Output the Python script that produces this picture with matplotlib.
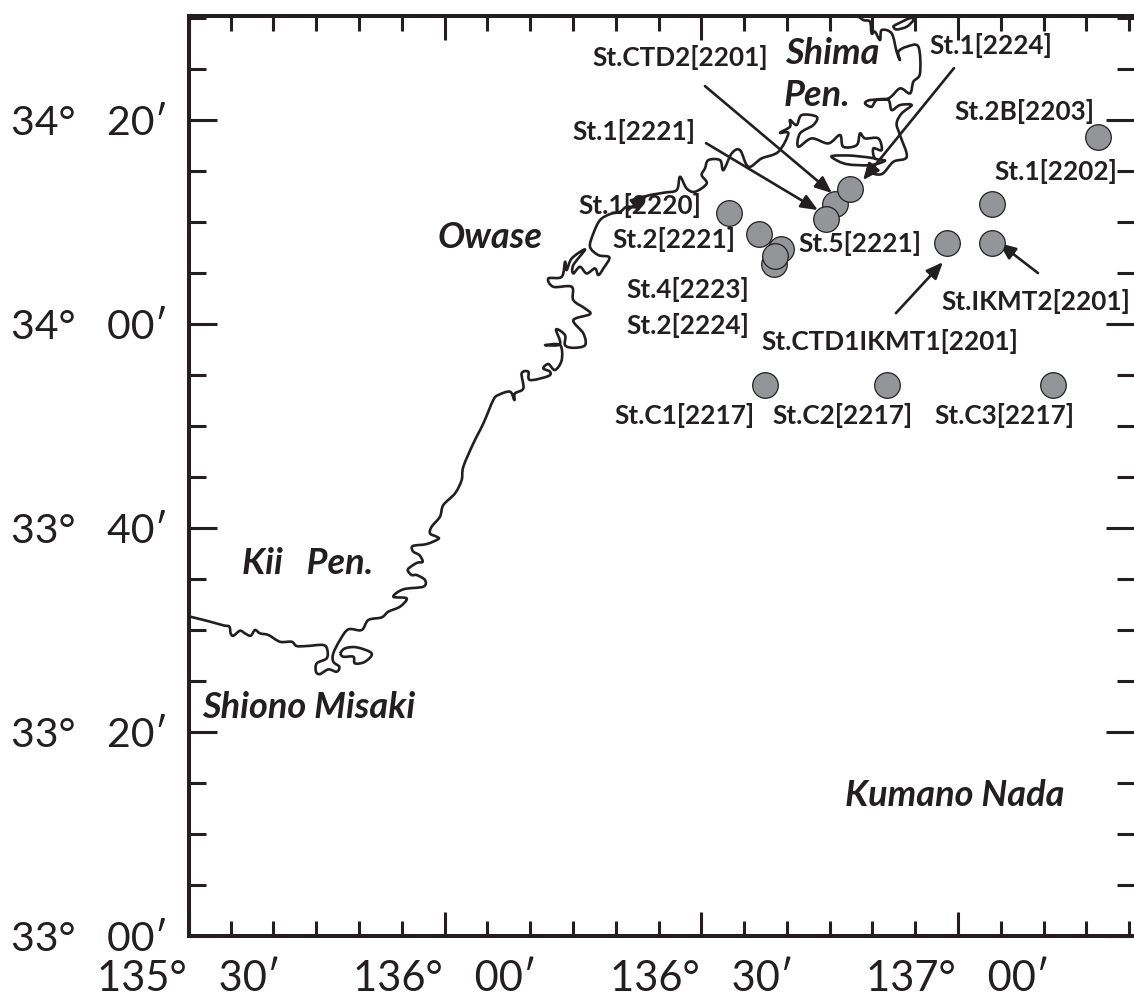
import matplotlib
matplotlib.use("Agg")
import matplotlib.pyplot as plt
import numpy as np
from matplotlib.patches import PathPatch
from matplotlib.path import Path
from matplotlib.ticker import FixedLocator, FuncFormatter

plt.rcParams['font.family'] = ['Lato', 'DejaVu Sans']
INK = '#231f20'

# Coordinates: arc-minutes east of 135°E and north of 33°N
station_names = ['St.4[2223]', 'St.5[2221]', 'St.2[2224]', 'St.2[2221]', 'St.1[2220]', 'St.CTD2[2201]',
                 'St.1[2224]', 'St.1[2221]', 'St.1[2202]', 'St.IKMT2[2201]', 'St.CTD1IKMT1[2201]',
                 'St.2B[2203]', 'St.C1[2217]', 'St.C2[2217]', 'St.C3[2217]']
station_lon = [98.5, 99.3, 98.6, 96.7, 93.2, 105.6, 107.4, 104.6, 123.96, 123.96, 118.7, 136.3, 97.4, 111.7, 131.1]
station_lat = [65.9, 67.4, 66.7, 68.8, 70.9, 71.8, 73.2, 70.3, 71.8, 67.9, 67.9, 78.3, 54.0, 54.0, 54.0]

coast_west_lon = [30.15, 30.27, 32.21, 34.16, 34.86, 35.02, 35.33, 36.11, 36.69, 37.36, 37.86, 38.45, 39.42, 40.78,
                  42.14, 42.73, 43.90, 45.84, 46.31, 46.23, 45.07, 44.99, 45.45, 46.43, 47.40, 47.71, 47.01, 47.01,
                  47.79, 48.76, 50.32, 51.10, 52.66, 53.44, 54.80, 55.58, 54.02, 55.19, 57.53, 57.72, 56.75, 56.16,
                  55.70, 56.16, 56.83, 57.45, 57.06, 56.36, 56.28, 57.92, 59.28, 59.08, 58.31, 58.50, 59.47, 59.86,
                  61.23, 62.00, 62.20, 63.37, 64.54, 65.70, 66.29, 67.65, 68.16, 68.23, 69.21, 69.01, 69.79, 69.99,
                  72.13, 72.32, 71.54, 72.13, 72.91, 73.69, 73.49, 71.74, 73.49, 73.03, 74.08, 74.08, 75.05, 76.42,
                  76.22, 75.05, 77.00, 76.41, 75.05, 74.86, 72.72, 72.13, 73.69, 74.08, 74.27, 74.86, 76.42, 75.05,
                  75.05, 75.83, 76.61, 77.58, 77.97, 78.56, 79.26, 77.97, 77.00, 77.39, 78.17, 79.34, 80.50, 81.28,
                  82.45, 83.42, 85.57, 87.12, 87.51, 88.29, 89.27, 90.63, 90.04, 90.43, 90.82, 92.19, 92.58, 93.55,
                  94.52, 95.50, 97.05, 99.00, 100.17, 99.20, 100.36, 100.36, 101.14, 101.73, 103.48, 103.09, 101.53,
                  101.34, 102.89, 104.84, 106.20, 106.59, 108.15, 108.54, 109.13, 110.68, 111.07, 110.10, 110.29,
                  111.46, 109.71, 106.98, 105.43, 105.43, 107.76, 110.29]
coast_west_lat = [31.36, 31.31, 30.91, 30.46, 30.33, 29.67, 29.44, 29.93, 29.67, 29.44, 30.00, 29.67, 29.51, 28.85,
                  28.85, 28.43, 28.43, 28.53, 28.04, 27.22, 26.73, 25.91, 25.68, 26.14, 25.91, 26.40, 26.89, 27.71,
                  29.02, 30.06, 30.00, 30.98, 31.24, 31.80, 32.29, 33.10, 33.27, 33.99, 34.25, 34.90, 35.39, 35.39,
                  35.88, 36.27, 36.60, 36.70, 37.35, 37.68, 38.23, 38.43, 38.92, 39.15, 39.47, 40.13, 41.11, 42.25,
                  43.40, 44.70, 46.01, 48.30, 50.26, 52.55, 53.04, 53.37, 52.55, 53.20, 53.69, 55.16, 55.33, 54.51,
                  54.90, 55.33, 55.65, 56.08, 55.49, 56.47, 57.94, 57.93, 58.03, 59.47, 58.91, 57.93, 57.67, 57.93,
                  59.08, 60.38, 60.97, 61.53, 62.34, 63.65, 63.65, 64.47, 64.63, 66.10, 65.29, 66.43, 67.31, 65.78,
                  64.96, 65.61, 64.96, 65.45, 64.80, 65.45, 66.53, 66.76, 67.57, 68.88, 70.19, 70.78, 71.00, 71.50,
                  71.50, 72.48, 72.87, 73.13, 74.44, 73.29, 72.97, 73.78, 74.60, 75.26, 76.07, 76.07, 75.09, 76.73,
                  77.05, 75.42, 76.24, 76.89, 78.69, 78.75, 79.34, 80.00, 79.51, 80.49, 80.32, 79.51, 78.69,
                  77.38, 78.20, 77.71, 78.53, 77.38, 77.54, 78.69, 78.20, 78.20, 77.05, 77.22, 76.24,
                  76.01, 75.58, 75.68, 76.24, 76.50, 76.50, 76.24]
coast_east_lon = [109.52, 109.52, 111.07, 112.44, 114.00, 113.21, 112.82, 113.41, 114.58, 113.21, 112.24, 111.85,
                  110.49, 109.90, 109.13, 109.71, 111.85, 113.21, 114.38, 114.77, 115.55, 115.36, 114.00, 113.02,
                  113.21, 112.82, 112.24, 111.07, 110.88, 110.29, 109.90, 109.71, 108.93, 108.3]
coast_east_lat = [75.42, 74.93, 74.70, 75.91, 76.40, 78.52, 79.67, 80.65, 81.47, 81.47, 80.98, 81.96,
                  81.96, 81.30, 81.63, 81.96, 82.12, 83.10, 82.61, 83.75, 84.57, 87.19, 87.19, 86.70,
                  85.88, 86.70, 88.49, 88.82, 87.84, 88.66, 88.49, 89.64, 89.80, 90.2]
island_shima_lon = [112.63, 114.38, 114.77, 114.00, 112.82, 112.44, 112.63]
island_shima_lat = [89.31, 89.99, 89.80, 89.15, 88.88, 89.15, 89.31]
island_shiono_lon = [47.79, 48.38, 49.74, 51.49, 50.71, 49.54, 49.35, 48.18, 47.79]
island_shiono_lat = [27.71, 28.20, 28.30, 27.71, 26.89, 26.73, 27.38, 27.38, 27.71]

W, H = 1134, 1001
L, R, T, B = 189, 1134, 15.5, 936
fig = plt.figure(figsize=(W / 100, H / 100), dpi=100)
ax = fig.add_axes([L / W, 1 - B / H, (R - L) / W, (B - T) / H])


def lon(m):
    return 135 + np.asarray(m) / 60


def lat(m):
    return 33 + np.asarray(m) / 60


ax.set_xlim(lon(30.15), lon(140.55))
ax.set_ylim(lat(0), lat(90.25))


def smooth_path(xs, ys):
    # Bezier curve through the digitised coast points, so the pen line has no corners
    p = np.column_stack([xs, ys])
    prev = np.vstack([p[0], p[:-1]])
    nxt = np.vstack([p[1:], p[-1]])
    verts, codes = [p[0]], [Path.MOVETO]
    for i in range(len(p) - 1):
        c1 = p[i] + (nxt[i] - prev[i]) / 6
        c2 = p[i + 1] - (nxt[i + 1] - prev[i + 1]) / 6
        verts += [c1, c2, p[i + 1]]
        codes += [Path.CURVE4] * 3
    return Path(verts, codes)


for xs, ys in [(coast_west_lon, coast_west_lat), (coast_east_lon, coast_east_lat),
               (island_shima_lon, island_shima_lat), (island_shiono_lon, island_shiono_lat)]:
    ax.add_patch(PathPatch(smooth_path(lon(xs), lat(ys)), fc='none', ec=INK, lw=1.9, zorder=2, joinstyle='round'))

for xa, ya, xb, yb in [(90.43, 83.33, 105.27, 72.84), (90.55, 77.74, 103.63, 71.17), (81.43, 71.17, 83.77, 72.74),
                       (119.52, 85.09, 108.89, 74.11), (112.74, 61.07, 118.23, 66.07), (129.33, 65.0, 124.78, 67.94)]:
    ax.annotate('', xy=(lon(xb), lat(yb)), xytext=(lon(xa), lat(ya)), zorder=3,
                arrowprops=dict(arrowstyle='-|>,head_length=1.0,head_width=0.42', color=INK, lw=1.9,
                                shrinkA=0, shrinkB=0))

ax.scatter(lon(station_lon), lat(station_lat), s=340, c='#939598', edgecolors=INK, linewidths=0.9, zorder=4)


def px(x, y):
    return (x / W, 1 - y / H)


label_xy = [(688, 290), (860, 243), (688, 325), (674, 240), (640, 205), (680, 57), (991, 46), (634, 132),
            (1056, 171), (1036, 302), (890, 342), (1024, 111), (684, 416), (842, 416), (1004, 416)]
for name, (x, y) in zip(station_names, label_xy):
    fx, fy = px(x, y)
    fig.text(fx, fy, name, ha='center', va='center', fontsize=18.8, fontweight='bold', color=INK, zorder=6)

for txt, x, y in [('Owase', 490, 238), ('Shima', 832, 53), ('Pen.', 817, 96), ('Kii   Pen.', 308, 563),
                  ('Shiono Misaki', 309, 708), ('Kumano Nada', 955, 796)]:
    fx, fy = px(x, y)
    fig.text(fx, fy, txt, ha='center', va='center', fontsize=26, fontweight='bold', fontstyle='italic', color=INK)


def split(v):
    d = int(np.floor(v + 1e-6))
    return d, int(round((v - d) * 60))


def fmt_x(v, _):
    d, m = split(v)
    return f"{d}°   {m:02d}′"


def fmt_y(v, _):
    d, m = split(v)
    return f"{d}°   {m:02d}′"


ax.xaxis.set_major_locator(FixedLocator(lon([30.15, 60, 90, 120])))
ax.xaxis.set_minor_locator(FixedLocator(lon(np.arange(35, 141, 5))))
ax.yaxis.set_major_locator(FixedLocator(lat([0, 20, 40, 60, 80])))
ax.yaxis.set_minor_locator(FixedLocator(lat(np.arange(5, 91, 5))))
ax.xaxis.set_major_formatter(FuncFormatter(fmt_x))
ax.yaxis.set_major_formatter(FuncFormatter(fmt_y))
ax.tick_params(axis='both', which='both', direction='in', top=True, right=True, color=INK)
ax.tick_params(axis='x', which='major', length=17, width=2.2, pad=17, labelsize=30, labelcolor=INK)
ax.tick_params(axis='x', which='minor', length=11, width=2.2)
ax.tick_params(axis='y', which='major', length=20, width=2.2, pad=15, labelsize=29.5, labelcolor=INK)
ax.tick_params(axis='y', which='minor', length=12.5, width=2.2)
for name in ['left', 'bottom', 'top']:
    ax.spines[name].set_linewidth(2.9)
    ax.spines[name].set_color(INK)
ax.spines['right'].set_visible(False)

fig.savefig('out.png', dpi=100)
